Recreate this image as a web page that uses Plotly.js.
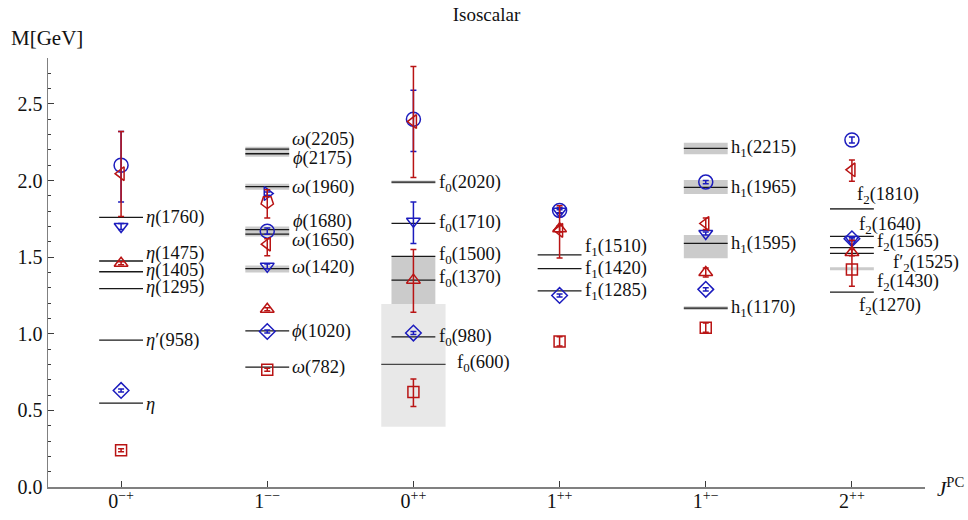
<!DOCTYPE html>
<html>
<head>
<meta charset="utf-8">
<script src="https://cdn.plot.ly/plotly-3.0.1.min.js"></script>
<style>html,body{margin:0;padding:0;background:#fff}#chart{width:968px;height:520px}</style>
</head>
<body>
<div id="chart"></div>
<script>
// ---------- data ----------
const categories = ['0<sup>−+</sup>', '1<sup>−−</sup>', '0<sup>++</sup>', '1<sup>++</sup>', '1<sup>+−</sup>', '2<sup>++</sup>'];
const catIndex = [1, 2, 3, 4, 5, 6];
const yTickVals = [0, 0.5, 1, 1.5, 2, 2.5];
const yTickText = ['0.0', '0.5', '1.0', '1.5', '2.0', '2.5'];

// model predictions (GeV), with asymmetric errors
const blueDiamond      = [0.63, 1.015, 1.005, 1.25, 1.29, 1.62];
const blueDiamondErrP  = [0.01, 0.01, 0.01, 0.01, 0.01, 0.01];
const blueDiamondErrM  = [0.01, 0.01, 0.01, 0.01, 0.01, 0.01];

const blueTriDown      = [1.70, 1.44, 1.735, 1.80, 1.655, 1.615];
const blueTriDownErrP  = [0.02, 0.015, 0.125, 0.01, 0.01, 0.01];
const blueTriDownErrM  = [0.02, 0.015, 0.145, 0.01, 0.01, 0.01];

const blueCircle       = [2.10, 1.67, 2.40, 1.805, 1.99, 2.265];
const blueCircleErrP   = [0.22, 0.02, 0.19, 0.02, 0.01, 0.02];
const blueCircleErrM   = [0.24, 0.02, 0.21, 0.02, 0.01, 0.02];

const blueTriRight     = [null, 1.915, null, null, null, null];
const blueTriRightErrP = [0, 0.01, 0, 0, 0, 0];
const blueTriRightErrM = [0, 0.01, 0, 0, 0, 0];

const redSquare        = [0.24, 0.765, 0.62, 0.95, 1.04, 1.42];
const redSquareErrP    = [0.01, 0.01, 0.085, 0.03, 0.03, 0.19];
const redSquareErrM    = [0.01, 0.01, 0.095, 0.03, 0.03, 0.11];

const redTriUp         = [1.46, 1.16, 1.35, 1.685, 1.40, 1.53];
const redTriUpErrP     = [0.01, 0.01, 0.20, 0.02, 0.03, 0.02];
const redTriUpErrM     = [0.01, 0.01, 0.21, 0.02, 0.03, 0.02];

const redTriLeft       = [2.045, 1.585, 2.385, 1.675, 1.72, 2.07];
const redTriLeftErrP   = [0.275, 0.035, 0.36, 0.16, 0.035, 0.065];
const redTriLeftErrM   = [0.28, 0.075, 0.365, 0.18, 0.04, 0.075];

const redPentagon      = [null, 1.86, null, null, null, null];
const redPentagonErrP  = [0, 0.08, 0, 0, 0, 0];
const redPentagonErrM  = [0, 0.105, 0, 0, 0, 0];

// experimental states
const stateCol  = [1,1,1,1,1,1, 2,2,2,2,2,2,2,2, 3,3,3,3,3,3, 4,4,4, 5,5,5,5, 6,6,6,6,6,6];
const stateName = [
  '<i>η</i>(1760)','<i>η</i>(1475)','<i>η</i>(1405)','<i>η</i>(1295)','<i>η</i>′(958)','<i>η</i>',
  '<i>ω</i>(2205)','<i>ϕ</i>(2175)','<i>ω</i>(1960)','<i>ϕ</i>(1680)','<i>ω</i>(1650)','<i>ω</i>(1420)','<i>ϕ</i>(1020)','<i>ω</i>(782)',
  'f<sub>0</sub>(2020)','f<sub>0</sub>(1710)','f<sub>0</sub>(1500)','f<sub>0</sub>(1370)','f<sub>0</sub>(980)','f<sub>0</sub>(600)',
  'f<sub>1</sub>(1510)','f<sub>1</sub>(1420)','f<sub>1</sub>(1285)',
  'h<sub>1</sub>(2215)','h<sub>1</sub>(1965)','h<sub>1</sub>(1595)','h<sub>1</sub>(1170)',
  'f<sub>2</sub>(1810)','f<sub>2</sub>(1640)','f<sub>2</sub>(1565)','f′<sub>2</sub>(1525)','f<sub>2</sub>(1430)','f<sub>2</sub>(1270)'
];
const stateMass = [
  1.760, 1.475, 1.405, 1.295, 0.958, 0.548,
  2.205, 2.175, 1.960, 1.680, 1.650, 1.425, 1.019, 0.782,
  1.990, 1.720, 1.505, 1.350, 0.980, 0.800,
  1.515, 1.425, 1.280,
  2.210, 1.955, 1.590, 1.168,
  1.815, 1.636, 1.562, 1.525, 1.425, 1.272
];
const bandLo = [
  null, null, null, null, null, null,
  2.190, 2.155, 1.940, 1.660, 1.635, 1.400, null, null,
  1.980, null, null, 1.195, null, 0.394,
  null, null, null,
  2.172, 1.912, 1.493, 1.155,
  1.810, null, null, null, 1.415, null
];
const bandHi = [
  null, null, null, null, null, null,
  2.220, 2.190, 1.980, 1.700, 1.665, 1.445, null, null,
  2.000, null, null, 1.505, null, 1.195,
  null, null, null,
  2.247, 2.004, 1.645, 1.180,
  1.820, null, null, null, 1.435, null
];
// where each label is written (GeV on the y axis, offset in category units on x)
const labelY = [
  1.760, 1.527, 1.416, 1.305, 0.953, 0.542,
  2.265, 2.141, 1.958, 1.736, 1.612, 1.430, 1.018, 0.777,
  1.984, 1.717, 1.508, 1.358, 0.979, 0.803,
  1.565, 1.421, 1.279,
  2.210, 1.950, 1.586, 1.164,
  1.900, 1.710, 1.593, 1.462, 1.332, 1.175
];
const labelDX = [
  0.155,0.155,0.155,0.155,0.155,0.155,
  0.155,0.165,0.155,0.165,0.155,0.155,0.155,0.155,
  0.16,0.16,0.16,0.16,0.16,0.285,
  0.16,0.16,0.16,
  0.16,0.16,0.16,0.16,
  0.02,0.035,0.157,0.267,0.157,0.035
];

// ---------- styling ----------
const BLUE = 'rgb(28,28,190)';
const RED = 'rgb(185,20,20)';
const FONT = '"Liberation Serif", "Times New Roman", serif';
const halfW = 0.15, wideHalfW = 0.22;
const wideBandStates = ['f<sub>0</sub>(600)'];
const noLineStates = ['f<sub>2</sub>(1430)'];

const shapes = [];
stateCol.forEach((c, i) => {
  if (bandLo[i] === null) return;
  const wide = wideBandStates.includes(stateName[i]);
  const hw = wide ? wideHalfW : halfW;
  shapes.push({type:'rect', xref:'x', yref:'y', layer:'below',
    x0:c-hw, x1:c+hw, y0:bandLo[i], y1:bandHi[i],
    fillcolor: wide ? 'rgb(232,232,232)' : 'rgb(203,203,203)', line:{width:0}});
});
stateCol.forEach((c, i) => {
  if (noLineStates.includes(stateName[i])) return;
  const wide = wideBandStates.includes(stateName[i]);
  const hw = wide ? wideHalfW : halfW;
  shapes.push({type:'line', xref:'x', yref:'y', layer:'below',
    x0:c-hw, x1:c+hw, y0:stateMass[i], y1:stateMass[i],
    line:{color: wide ? 'rgb(70,70,70)' : 'rgb(25,25,25)', width:1.3}});
});

const annotations = stateCol.map((c, i) => ({
  xref:'x', yref:'y', x:c+labelDX[i], y:labelY[i], text:stateName[i],
  showarrow:false, xanchor:'left', yanchor:'middle',
  font:{family:FONT, size:18.5, color:'#111'}
}));
annotations.push({xref:'paper', yref:'paper', x:-0.044, y:1.047, xanchor:'left', yanchor:'middle',
  text:'M[GeV]', showarrow:false, font:{family:FONT, size:21, color:'#111'}});
annotations.push({xref:'paper', yref:'paper', x:1.011, y:0.0, xanchor:'left', yanchor:'middle',
  text:'<i>J</i><sup>PC</sup>', showarrow:false, font:{family:FONT, size:21, color:'#111'}});

function series(y, ep, em, symbol, color, size, angle) {
  return {
    type:'scatter', mode:'markers', x:catIndex, y:y,
    marker:{symbol:symbol, size:size, color:color, angle:angle||0, line:{color:color, width:1.5}},
    error_y:{type:'data', symmetric:false, array:ep, arrayminus:em, color:color, thickness:1.5, width:3},
    showlegend:false, hoverinfo:'skip', cliponaxis:false
  };
}

const traces = [
  series(blueCircle, blueCircleErrP, blueCircleErrM, 'circle-open', BLUE, 14),
  series(blueTriDown, blueTriDownErrP, blueTriDownErrM, 'triangle-down-open', BLUE, 12),
  series(blueDiamond, blueDiamondErrP, blueDiamondErrM, 'diamond-open', BLUE, 12),
  series(blueTriRight, blueTriRightErrP, blueTriRightErrM, 'triangle-right-open', BLUE, 12),
  series(redSquare, redSquareErrP, redSquareErrM, 'square-open', RED, 11),
  series(redTriUp, redTriUpErrP, redTriUpErrM, 'triangle-up-open', RED, 12),
  series(redTriLeft, redTriLeftErrP, redTriLeftErrM, 'triangle-left-open', RED, 12),
  series(redPentagon, redPentagonErrP, redPentagonErrM, 'pentagon-open', RED, 13, 180)
];

const layout = {
  width:968, height:520,
  margin:{l:48, r:43, t:58, b:33, pad:0},
  paper_bgcolor:'#fff', plot_bgcolor:'#fff',
  font:{family:FONT, size:20, color:'#111'},
  title:{text:'Isoscalar', x:0.5, xref:'paper', y:1-14/520, yref:'container', yanchor:'middle',
         font:{family:FONT, size:19, color:'#111'}},
  xaxis:{range:[0.5, 6.5], tickvals:catIndex, ticktext:categories, showgrid:false, zeroline:false,
         showline:true, linecolor:'rgb(128,128,128)', linewidth:2, ticks:'inside', ticklen:6,
         tickcolor:'rgb(60,60,60)', tickwidth:1, ticklabelstandoff:-5,
         tickfont:{family:FONT, size:20, color:'#111'}},
  yaxis:{range:[0, 2.8], tickvals:yTickVals, ticktext:yTickText,
         showgrid:false, zeroline:false, showline:true, linecolor:'rgb(128,128,128)', linewidth:1.5,
         ticks:'inside', ticklen:6, tickcolor:'rgb(60,60,60)', tickwidth:1,
         tickfont:{family:FONT, size:20, color:'#111'},
         minor:{dtick:0.1, tick0:0, ticks:'inside', ticklen:3, tickcolor:'rgb(60,60,60)', tickwidth:1, showgrid:false}},
  shapes:shapes,
  annotations:annotations
};

Plotly.newPlot('chart', traces, layout, {displayModeBar:false, staticPlot:true});
</script>
</body>
</html>
